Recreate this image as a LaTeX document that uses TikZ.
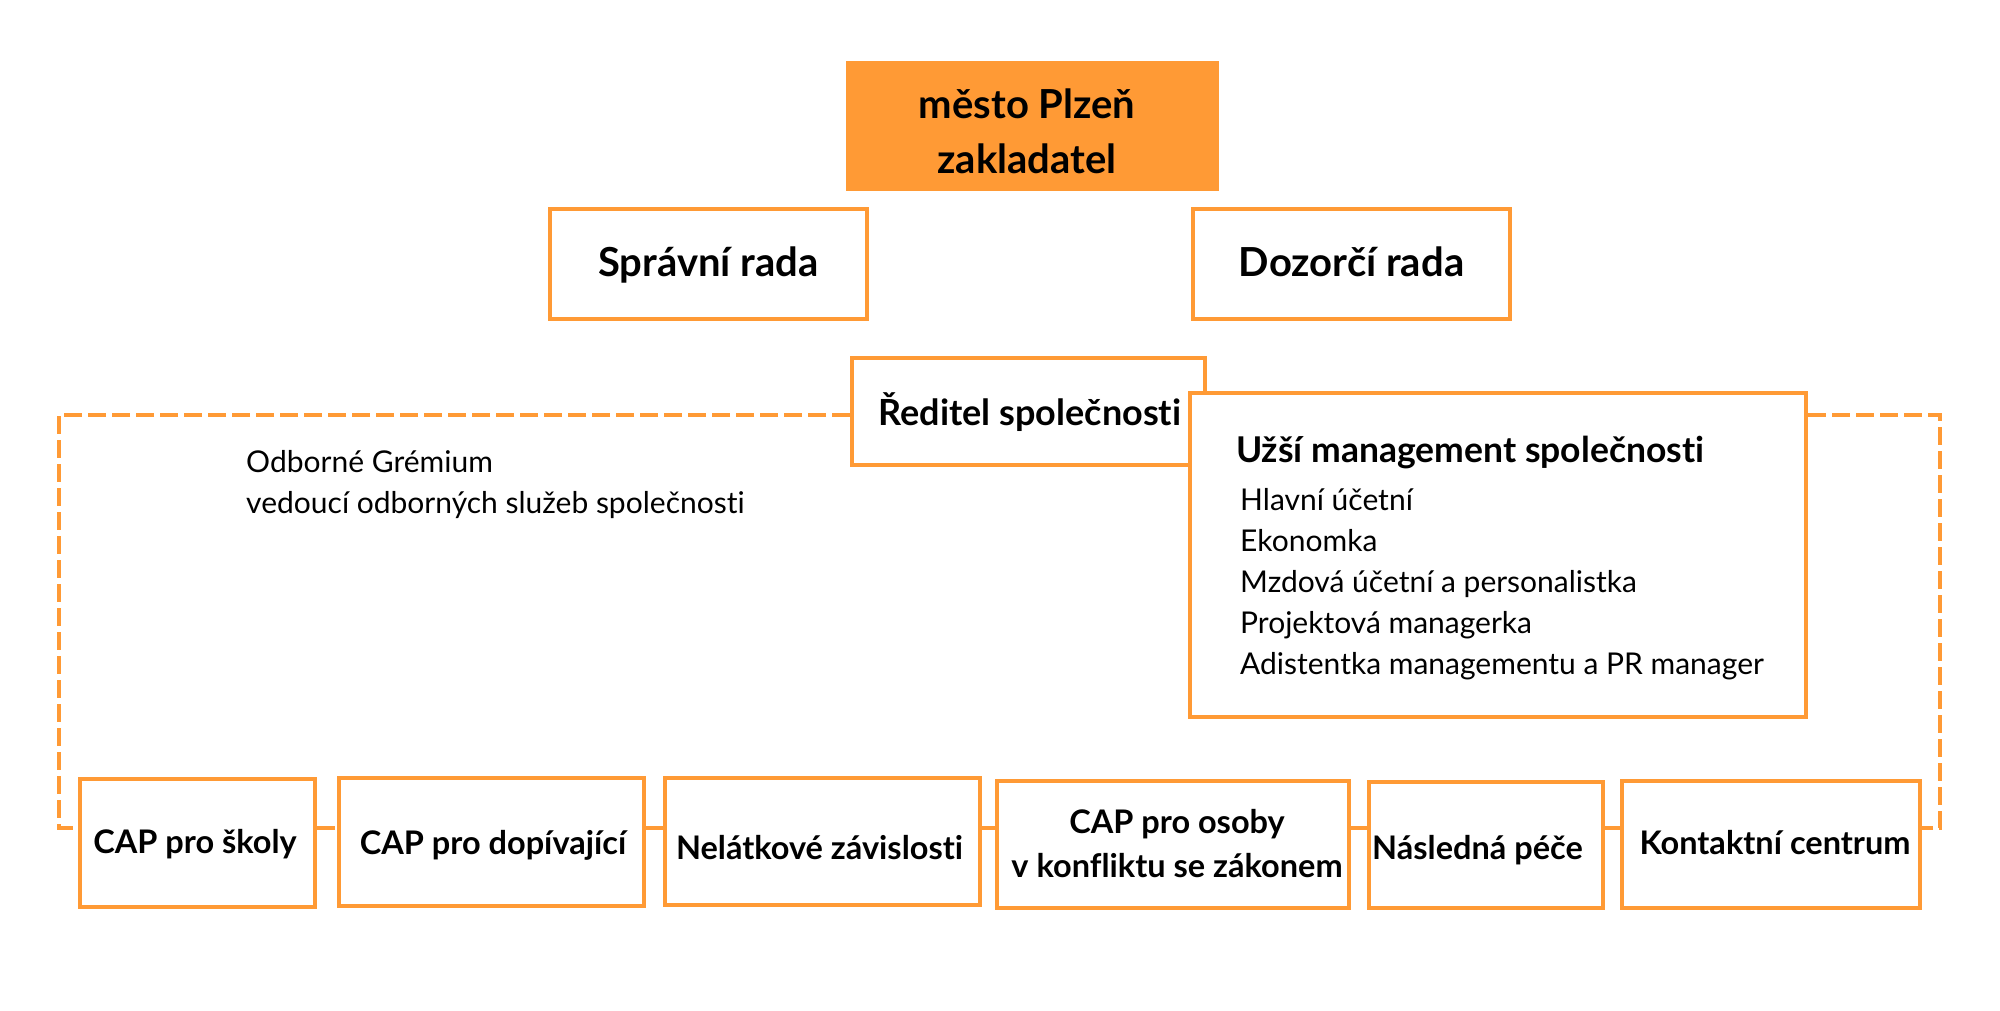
\documentclass[tikz,border=0pt]{standalone}
\usepackage{fontspec}
\setmainfont[Ligatures=NoCommon]{Lato}
\definecolor{org}{HTML}{FF9A35}
\tikzset{
  box/.style={draw=org, line width=4pt, fill=white, inner sep=0pt},
  txt/.style={anchor=base, inner sep=0pt, align=center},
  ltxt/.style={anchor=base west, inner sep=0pt, font=\fontsize{30}{36}\selectfont},
  hfont/.style={font=\bfseries\fontsize{40}{55}\selectfont},
  bfont/.style={font=\bfseries\fontsize{32.5}{44}\selectfont},
  dashline/.style={draw=org, line width=3.3pt, dash pattern=on 18pt off 6pt},
  solidline/.style={draw=org, line width=3.3pt}
}
\begin{document}
\begin{tikzpicture}[x=1pt,y=-1pt]
\useasboundingbox (0,0) rectangle (2000,1010);
% founder
\node[fill=org, inner sep=0pt, minimum width=373pt, minimum height=130pt] (city) at (1032.5,126) {};
\node[txt, hfont] (cityt) at (1027,173) {město Plzeň\\zakladatel};
% boards
\node[box, minimum width=317pt, minimum height=110pt] (sr) at (708.5,264) {};
\node[txt, hfont] (srt) at (708.5,276) {Správní rada};
\node[box, minimum width=317pt, minimum height=110pt] (dr) at (1351.5,264) {};
\node[txt, hfont] (drt) at (1351.5,276) {Dozorčí rada};
% director
\node[box, minimum width=353pt, minimum height=107pt] (red) at (1028.5,411.5) {};
\node[txt, font=\bfseries\fontsize{36}{44}\selectfont] (redt) at (1030,425) {Ředitel společnosti};
% narrow management
\node[box, minimum width=616pt, minimum height=324pt] (uz) at (1498,555) {};
\node[ltxt, font=\bfseries\fontsize{35.5}{40}\selectfont] (uzt) at (1236,462) {Užší management společnosti};
\node[ltxt] (u1) at (1240,510) {Hlavní účetní};
\node[ltxt] (u2) at (1240,551) {Ekonomka};
\node[ltxt] (u3) at (1240,592) {Mzdová účetní a personalistka};
\node[ltxt] (u4) at (1240,633) {Projektová managerka};
\node[ltxt] (u5) at (1240,674) {Adistentka managementu a PR manager};
% expert board
\node[ltxt] (g1) at (246,472) {Odborné Grémium};
\node[ltxt] (g2) at (246,513) {vedoucí odborných služeb společnosti};
% bottom boxes
\node[box, minimum width=235pt, minimum height=128pt] (b1) at (197.5,843) {};
\node[txt, bfont] (b1t) at (195,853) {CAP pro školy};
\node[box, minimum width=305pt, minimum height=128pt] (b2) at (491.5,842) {};
\node[txt, bfont] (b2t) at (493,854) {CAP pro dopívající};
\node[box, minimum width=315pt, minimum height=127pt] (b3) at (822,841.5) {};
\node[txt, bfont] (b3t) at (819.5,859) {Nelátkové závislosti};
\node[box, minimum width=352pt, minimum height=127pt] (b4) at (1173,844.5) {};
\node[txt, bfont] (b4t) at (1177,877) {CAP pro osoby\\v konfliktu se zákonem};
\node[box, minimum width=234pt, minimum height=126pt] (b5) at (1486,845) {};
\node[txt, bfont] (b5t) at (1477.5,859) {Následná péče};
\node[box, minimum width=298pt, minimum height=127pt] (b6) at (1771,844.5) {};
\node[txt, bfont] (b6t) at (1775,854) {Kontaktní centrum};
% connector levels
\coordinate (top) at (0,415);
\coordinate (lvl) at (0,828);
\coordinate (ltop) at (59,415);
\coordinate (lbot) at (59,828);
\coordinate (rtop) at (1940,415);
\coordinate (rbot) at (1940,828);
\draw[dashline] (red.west |- top) -- (ltop) -- (lbot) -- (b1.west |- lvl);
\draw[dashline] (uz.east |- top) -- (rtop) -- (rbot) -- (b6.east |- lvl);
\draw[dashline] (b1.east |- lvl) -- (b2.west |- lvl);
\draw[dashline] (b2.east |- lvl) -- (b3.west |- lvl);
\draw[solidline] (b3.east |- lvl) -- (b4.west |- lvl);
\draw[solidline] (b4.east |- lvl) -- (b5.west |- lvl);
\draw[solidline] (b5.east |- lvl) -- (b6.west |- lvl);
\end{tikzpicture}
\end{document}
